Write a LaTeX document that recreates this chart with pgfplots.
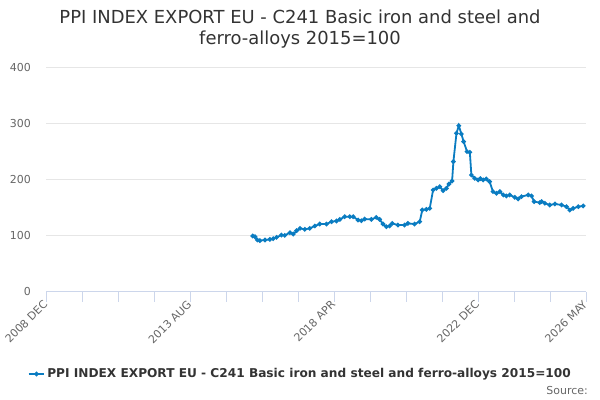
\documentclass[border=0pt]{standalone}
\usepackage{pgfplots}
\pgfplotsset{compat=1.18}
\usepackage{pgfplotstable}
\usepackage{fontspec}
\setmainfont{DejaVu Sans}
\definecolor{lineblue}{HTML}{0A7CC1}
\definecolor{titlecol}{HTML}{333333}
\definecolor{gridcol}{HTML}{E6E6E6}
\definecolor{axiscol}{HTML}{CCD6EB}
\definecolor{labcol}{HTML}{666666}
\pgfplotstableread{
m v
80.3 99.3
81.2 98.1
82.1 92.2
83.1 91.0
85.1 92.2
87.0 93.3
88.3 94.5
89.6 96.9
91.5 101.0
92.8 100.4
94.8 105.2
96.1 102.8
97.4 108.8
98.7 112.9
100.6 111.2
102.5 112.9
104.5 117.1
106.4 120.6
109.0 120.6
111.0 124.8
112.9 126.0
114.2 128.9
116.1 133.7
118.1 133.7
119.4 133.7
121.3 127.7
122.6 126.5
123.9 129.5
126.5 128.9
128.4 132.5
129.7 128.9
131.0 120.6
132.3 115.8
133.6 117.1
134.6 121.8
136.8 118.8
139.4 118.8
140.7 121.8
143.3 120.6
145.3 124.8
146.3 145.6
147.9 146.8
149.2 148.6
150.5 181.3
151.8 184.3
153.1 187.2
154.4 180.1
155.7 184.3
156.7 192.0
157.9 197.4
158.4 231.8
159.6 282.3
160.5 296.0
161.5 281.2
162.4 267.5
163.7 249.7
164.8 248.5
165.4 208.1
166.7 202.1
168.0 199.2
168.9 201.5
170.0 199.2
171.2 201.0
172.5 196.2
173.8 178.4
175.2 175.4
176.5 178.4
177.8 172.5
179.0 170.7
180.3 172.5
182.3 168.3
183.6 165.3
184.9 169.5
187.5 172.5
188.8 170.7
189.8 160.6
192.0 158.8
192.7 160.6
194.0 157.6
195.9 154.6
197.9 156.4
200.5 154.6
202.4 151.6
203.7 145.6
205.0 148.6
207.0 151.6
208.9 152.8
}\datatable
\begin{document}
\begin{tikzpicture}
\path[use as bounding box] (0,0) rectangle (600bp,400bp);
\begin{axis}[
  at={(46.3bp,108.3bp)}, anchor=south west,
  scale only axis, width=539.7bp, height=224.4bp,
  xmin=0, xmax=210, ymin=0, ymax=400,
  clip=false,
  axis x line=bottom, axis y line=left,
  x axis line style={-, draw=axiscol, line width=0.8bp},
  y axis line style={draw=none},
  xtick={0,56,112,168,210},
  xticklabels={2008 DEC,2013 AUG,2018 APR,2022 DEC,2026 MAY},
  extra x ticks={14,28,42,70,84,98,126,140,154,182,196},
  extra x tick labels={},
  extra x tick style={x tick style={draw=axiscol, line width=0.8bp}},
  xtick align=outside,
  major tick length=10bp,
  x tick style={draw=axiscol, line width=0.8bp},
  ytick={0,100,200,300,400},
  y tick style={draw=none},
  ymajorgrids,
  major grid style={draw=gridcol, line width=0.8bp},
  /pgf/number format/assume math mode=true,
  tick label style={font=\fontsize{11}{13}\selectfont, text=labcol},
  yticklabel style={xshift=-7bp},
  xticklabel style={rotate=45, anchor=east, inner sep=1bp},
  legend style={at={(axis description cs:0.4705,-0.367)}, anchor=center, draw=none, fill=none,
    font=\fontsize{12.2}{14}\selectfont\bfseries, text=titlecol},
  legend image code/.code={
    \draw[mark repeat=2,mark phase=2,#1] plot coordinates {(0cm,0cm) (0.28cm,0cm) (0.56cm,0cm)};},
]
\addplot[color=lineblue, line width=1.8bp, mark=*, mark size=1.3bp] table[x=m, y=v] {\datatable};
\addlegendentry{PPI INDEX EXPORT EU - C241 Basic iron and steel and ferro-alloys 2015=100}
\end{axis}
\node[anchor=base, text=titlecol, font=\fontsize{18}{21}\selectfont] at (300bp,376bp) {PPI INDEX EXPORT EU - C241 Basic iron and steel and};
\node[anchor=base, text=titlecol, font=\fontsize{18}{21}\selectfont] at (300bp,355bp) {ferro-alloys 2015=100};
\node[anchor=base east, text=labcol, font=\fontsize{11}{13}\selectfont, inner sep=0pt] at (588bp,6bp) {Source:};
\end{tikzpicture}
\end{document}
